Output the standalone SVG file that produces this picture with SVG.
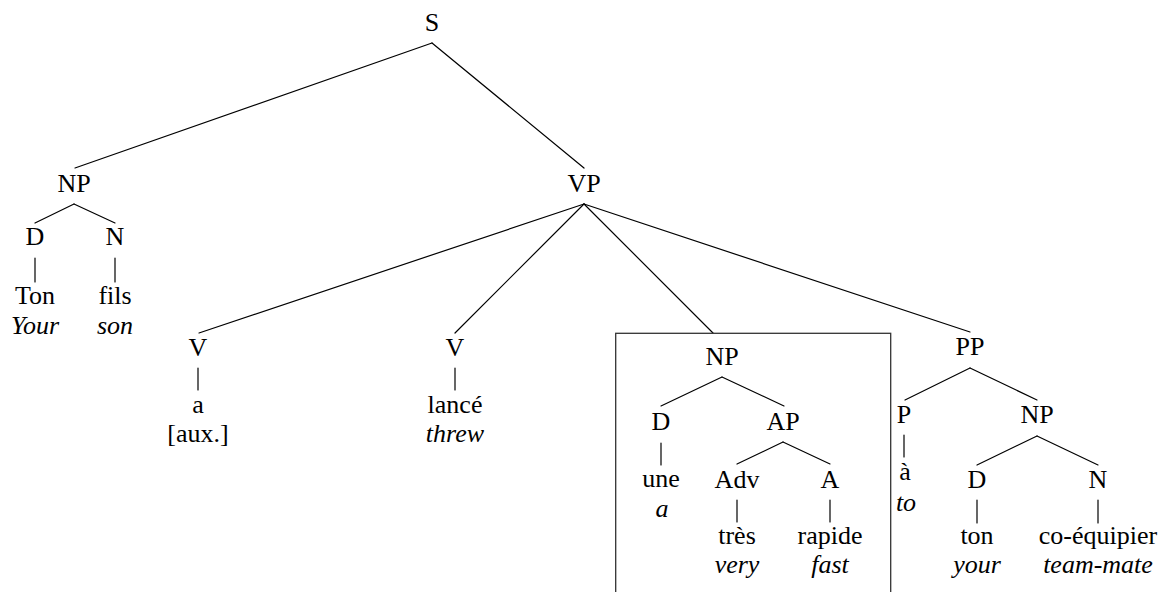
<svg xmlns="http://www.w3.org/2000/svg" width="1166" height="592" viewBox="0 0 1166 592">
<style>
text{font-size:26px;fill:#000;text-anchor:middle}
.g{font-style:italic}
.e{stroke:#000;stroke-width:1.2;fill:none;stroke-linecap:round}
.box{stroke:#333;stroke-width:1.3;fill:none}
</style>
<rect width="1166" height="592" fill="#fff"/>
<g id="connectors">
<line class="e" x1="432" y1="43" x2="75" y2="168"/>
<line class="e" x1="432" y1="43" x2="584" y2="168"/>
<line class="e" x1="74" y1="204" x2="35" y2="223"/>
<line class="e" x1="74" y1="204" x2="115" y2="223"/>
<line class="e" x1="35" y1="258" x2="35" y2="282"/>
<line class="e" x1="115" y1="258" x2="115" y2="282"/>
<line class="e" x1="584" y1="204" x2="199" y2="333"/>
<line class="e" x1="584" y1="204" x2="455" y2="333"/>
<line class="e" x1="584" y1="204" x2="713" y2="333"/>
<line class="e" x1="584" y1="204" x2="970" y2="332"/>
<line class="e" x1="198" y1="368" x2="198" y2="390"/>
<line class="e" x1="455" y1="368" x2="455" y2="390"/>
<line class="e" x1="722" y1="377" x2="661" y2="406"/>
<line class="e" x1="722" y1="377" x2="784" y2="406"/>
<line class="e" x1="661" y1="443" x2="661" y2="465"/>
<line class="e" x1="783" y1="442" x2="737" y2="464"/>
<line class="e" x1="783" y1="442" x2="830" y2="464"/>
<line class="e" x1="737" y1="500" x2="737" y2="522"/>
<line class="e" x1="830" y1="500" x2="830" y2="522"/>
<line class="e" x1="970" y1="368" x2="905" y2="400"/>
<line class="e" x1="970" y1="368" x2="1037" y2="400"/>
<line class="e" x1="904" y1="435" x2="904" y2="457"/>
<line class="e" x1="1037" y1="436" x2="977" y2="465"/>
<line class="e" x1="1037" y1="436" x2="1098" y2="465"/>
<line class="e" x1="977" y1="500" x2="977" y2="523"/>
<line class="e" x1="1098" y1="500" x2="1098" y2="523"/>
</g>
<g font-family="Liberation Serif, Tinos, Times New Roman, DejaVu Serif, Noto Serif, serif">
<g id="n-S"><text x="432" y="31">S</text></g>
<g id="n-NP1"><text x="74" y="192">NP</text></g>
<g id="n-D1"><text x="35" y="245">D</text></g>
<g id="n-N1"><text x="115" y="245">N</text></g>
<g id="n-Ton"><text x="35" y="304">Ton</text><text class="g" x="35" y="334">Your</text></g>
<g id="n-fils"><text x="115" y="304">fils</text><text class="g" x="115" y="334">son</text></g>
<g id="n-VP"><text x="584" y="192">VP</text></g>
<g id="n-V1"><text x="198" y="356">V</text></g>
<g id="n-a"><text x="198" y="413">a</text><text x="198" y="442">[aux.]</text></g>
<g id="n-V2"><text x="455" y="356">V</text></g>
<g id="n-lance"><text x="455" y="413">lancé</text><text class="g" x="455" y="442">threw</text></g>
<g id="n-box"><rect class="box" x="615.7" y="333.3" width="275" height="280"/></g>
<g id="n-NP2"><text x="722" y="365">NP</text></g>
<g id="n-D2"><text x="661" y="430">D</text></g>
<g id="n-une"><text x="661" y="487">une</text><text class="g" x="662" y="517">a</text></g>
<g id="n-AP"><text x="783" y="430">AP</text></g>
<g id="n-Adv"><text x="737" y="488">Adv</text></g>
<g id="n-A"><text x="830" y="488">A</text></g>
<g id="n-tres"><text x="737" y="544">très</text><text class="g" x="737" y="573">very</text></g>
<g id="n-rapide"><text x="830" y="544">rapide</text><text class="g" x="830" y="573">fast</text></g>
<g id="n-PP"><text x="970" y="355">PP</text></g>
<g id="n-P"><text x="904" y="423">P</text></g>
<g id="n-aa"><text x="905" y="480">à</text><text class="g" x="906" y="511">to</text></g>
<g id="n-NP3"><text x="1037" y="423">NP</text></g>
<g id="n-D3"><text x="977" y="488">D</text></g>
<g id="n-N3"><text x="1098" y="488">N</text></g>
<g id="n-ton"><text x="977" y="544">ton</text><text class="g" x="977" y="573">your</text></g>
<g id="n-coeq"><text x="1098" y="544">co-équipier</text><text class="g" x="1098" y="573">team-mate</text></g>
</g>
</svg>
